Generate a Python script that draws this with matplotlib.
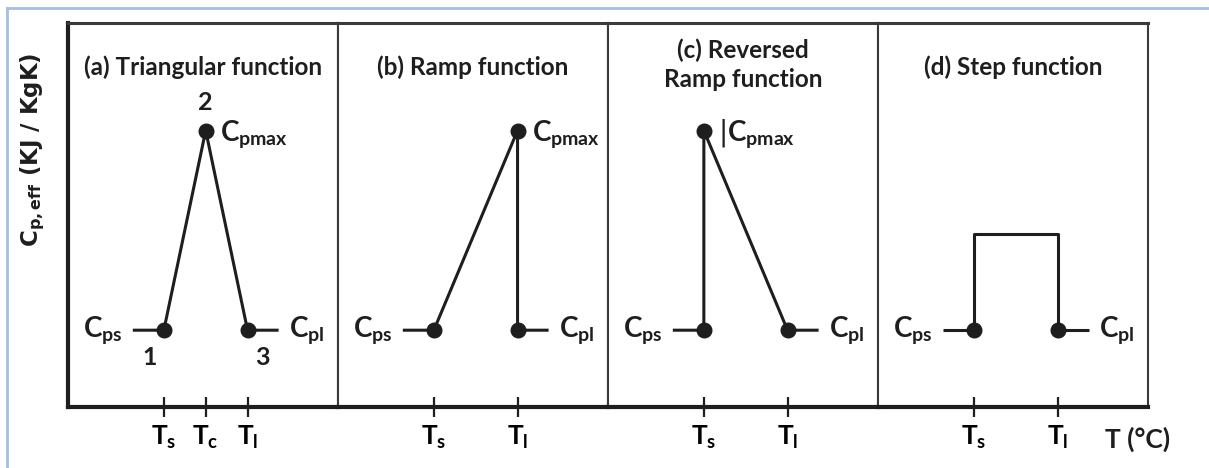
import matplotlib.pyplot as plt
from matplotlib.lines import Line2D

plt.rcParams["mathtext.fontset"] = "custom"
plt.rcParams["mathtext.rm"] = "Lato:bold"
plt.rcParams["mathtext.it"] = "Lato:bold"
plt.rcParams["mathtext.bf"] = "Lato:bold"

# ── Data (panel units: x 0..10, y 0..10) ──────────────────────────────────────
titles = ["(a) Triangular function", "(b) Ramp function",
          "(c) Reversed\nRamp function", "(d) Step function"]
T_s, T_c, T_l = 3.55, 5.1, 6.65
stub = 1.15
cp_s, cp_l, cp_max, cp_step = 2.0, 2.0, 7.2, 4.5

curves_x = [
    [T_s - stub, T_s, T_c, T_l, T_l + stub],
    [T_s - stub, T_s, T_l, T_l, T_l + stub],
    [T_s - stub, T_s, T_s, T_l, T_l + stub],
    [T_s - stub, T_s, T_s, T_l, T_l, T_l + stub],
]
curves_y = [
    [cp_s, cp_s, cp_max, cp_l, cp_l],
    [cp_s, cp_s, cp_max, cp_l, cp_l],
    [cp_s, cp_s, cp_max, cp_l, cp_l],
    [cp_s, cp_s, cp_step, cp_step, cp_l, cp_l],
]
dots_x = [[T_s, T_c, T_l], [T_s, T_l, T_l], [T_s, T_s, T_l], [T_s, T_l]]
dots_y = [[cp_s, cp_max, cp_l], [cp_s, cp_max, cp_l], [cp_s, cp_max, cp_l], [cp_s, cp_l]]
ticks = [[T_s, T_c, T_l], [T_s, T_l], [T_s, T_l], [T_s, T_l]]
tick_labels = [[r"$T_s$", r"$T_c$", r"$T_l$"], [r"$T_s$", r"$T_l$"],
               [r"$T_s$", r"$T_l$"], [r"$T_s$", r"$T_l$"]]
max_labels = [r"$C_{pmax}$", r"$C_{pmax}$", r"|$C_{pmax}$", None]

# ── Figure ─────────────────────────────────────────────────────────────────────
W, H = 1209, 468
fig = plt.figure(figsize=(W / 100, H / 100), dpi=100)
ink = "#1e1e1e"
FONT = "Lato"

axes = []
for i in range(4):
    ax = fig.add_axes([(68 + i * 270) / W, (H - 407) / H, 270 / W, 384 / H])
    ax.set_xlim(0, 10)
    ax.set_ylim(0, 10)
    ax.set_yticks([])
    for s in ax.spines.values():
        s.set_color("#3a3a3a")
        s.set_linewidth(1.5)
    ax.spines["top"].set_linewidth(2.2)
    ax.spines["bottom"].set_linewidth(3)
    ax.spines["bottom"].set_color(ink)
    axes.append(ax)

    ax.plot(curves_x[i], curves_y[i], color=ink, lw=2.2, solid_capstyle="butt", zorder=3)
    ax.plot(dots_x[i], dots_y[i], "o", color=ink, ms=10.5, zorder=4, clip_on=False)

    ax.set_xticks(ticks[i])
    ax.set_xticklabels(tick_labels[i], fontsize=19)
    ax.tick_params(axis="x", direction="inout", length=14.4, width=1.6, color=ink, pad=5)

    ax.text(0.5, 0.885 if i != 2 else 0.892, titles[i], transform=ax.transAxes,
            ha="center", va="center", fontsize=17.5, fontweight="bold",
            family=FONT, color=ink, linespacing=1.3)

    # Cps / Cpl labels
    ax.annotate(r"$C_{ps}$", xy=(T_s - stub, cp_s), xytext=(-11, 0),
                textcoords="offset pixels", ha="right", va="center",
                fontsize=20, color=ink)
    ax.annotate(r"$C_{pl}$", xy=(T_l + stub, cp_l), xytext=(10, 0),
                textcoords="offset pixels", ha="left", va="center",
                fontsize=20, color=ink)
    if max_labels[i]:
        xm = dots_x[i][1]
        ax.annotate(max_labels[i], xy=(xm, cp_max), xytext=(14, -3),
                    textcoords="offset pixels", ha="left", va="center",
                    fontsize=20, color=ink)

axes[0].spines["left"].set_linewidth(3)
axes[0].spines["left"].set_color(ink)

# point numbers in (a)
for lab, (x, y), off in [("1", (T_s, cp_s), (-14, -27)),
                         ("2", (T_c, cp_max), (0, 28)),
                         ("3", (T_l, cp_l), (15, -27))]:
    axes[0].annotate(lab, xy=(x, y), xytext=off, textcoords="offset pixels",
                     ha="center", va="center", fontsize=18, fontweight="bold",
                     family=FONT, color=ink)

# axes arrows
axes[0].annotate("", xy=(40.9, 0), xytext=(0, 0), xycoords="data",
                 arrowprops=dict(arrowstyle="-|>,head_length=0.7,head_width=0.3",
                                 color=ink, lw=3, shrinkA=0, shrinkB=0))
axes[0].annotate("", xy=(0, 10.05), xytext=(0, 0), xycoords="data",
                 arrowprops=dict(arrowstyle="-|>,head_length=0.6,head_width=0.2",
                                 color=ink, lw=3, shrinkA=0, shrinkB=0))

axes[3].annotate("T (°C)", xy=(9.6, 0), xytext=(0, -20), textcoords="offset pixels",
                 ha="center", va="top", fontsize=19, fontweight="bold",
                 family=FONT, color=ink)

fig.text(33 / W, 1 - 150 / H, r"$\mathbf{C_{p,eff}}$ (KJ / KgK)", rotation=90,
         ha="center", va="center", fontsize=16.5, fontweight="bold",
         family="DejaVu Sans", math_fontfamily="dejavusans", color=ink)

# light blue frame of the original screenshot
blue = "#a3bfe4"
fig.add_artist(Line2D([7 / W, 1], [1 - 8 / H, 1 - 8 / H], color=blue, lw=2,
                      transform=fig.transFigure))
fig.add_artist(Line2D([7 / W, 7 / W], [0, 1 - 8 / H], color=blue, lw=2,
                      transform=fig.transFigure))

plt.savefig("out.png", dpi=100)
